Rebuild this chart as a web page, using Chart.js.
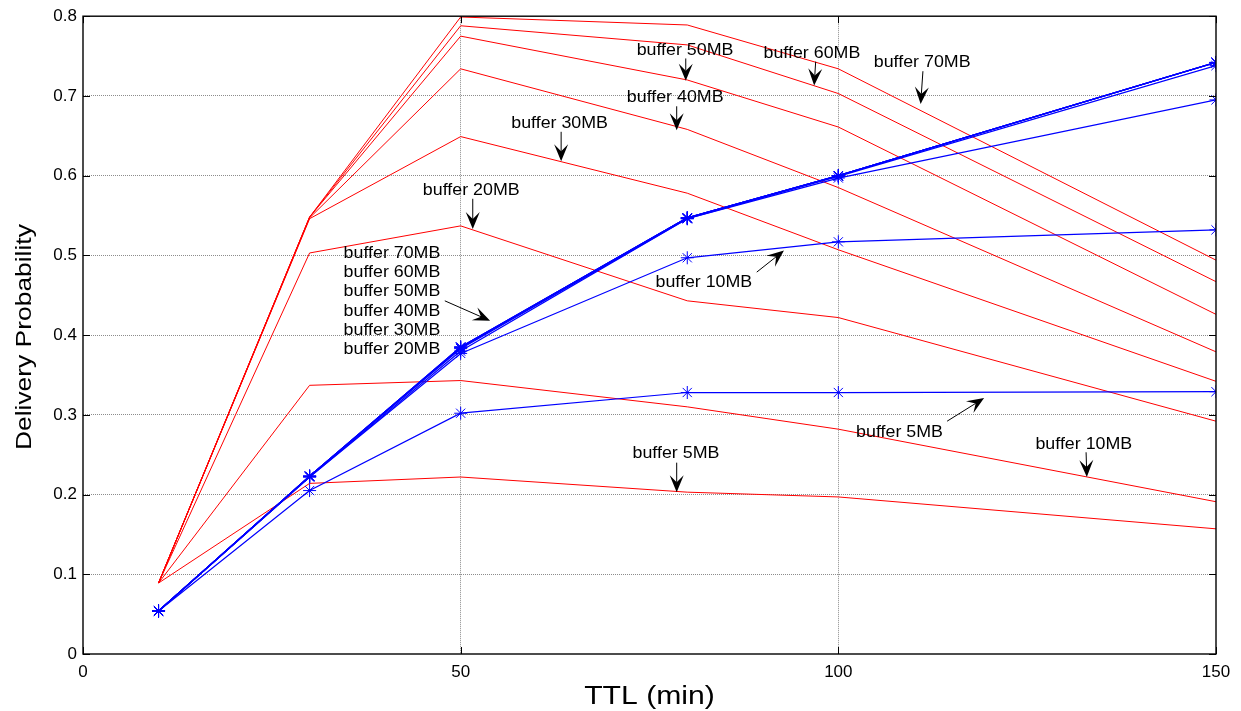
<!DOCTYPE html>
<html>
<head>
<meta charset="utf-8">
<script src="https://cdn.jsdelivr.net/npm/chart.js@4.4.0/dist/chart.umd.min.js"></script>
<style>
  html, body { margin: 0; padding: 0; background: #ffffff; }
  #wrap { width: 1241px; height: 711px; }
</style>
</head>
<body>
<div id="wrap"><canvas id="chart" width="1241" height="711"></canvas></div>
<script>
// TTL values (minutes) at which delivery probability was measured
const ttl = [10, 30, 50, 80, 100, 150];

// Red curves, one per buffer size
const red5MB  = [0.089, 0.214, 0.222, 0.203, 0.197, 0.157];
const red10MB = [0.089, 0.337, 0.343, 0.310, 0.282, 0.191];
const red20MB = [0.089, 0.503, 0.537, 0.443, 0.422, 0.292];
const red30MB = [0.089, 0.546, 0.649, 0.578, 0.507, 0.342];
const red40MB = [0.089, 0.547, 0.734, 0.658, 0.585, 0.379];
const red50MB = [0.089, 0.548, 0.775, 0.720, 0.661, 0.426];
const red60MB = [0.089, 0.548, 0.788, 0.764, 0.703, 0.467];
const red70MB = [0.089, 0.548, 0.799, 0.789, 0.734, 0.494];

// Blue curves (asterisk markers), one per buffer size
const blue5MB  = [0.054, 0.205, 0.302, 0.328, 0.328, 0.329];
const blue10MB = [0.054, 0.222, 0.377, 0.497, 0.517, 0.532];
const blue20MB = [0.054, 0.222, 0.380, 0.546, 0.597, 0.695];
const blue30MB = [0.054, 0.223, 0.383, 0.546, 0.599, 0.738];
const blue40MB = [0.054, 0.223, 0.384, 0.547, 0.600, 0.742];
const blue50MB = [0.054, 0.223, 0.385, 0.547, 0.600, 0.742];
const blue60MB = [0.054, 0.223, 0.385, 0.547, 0.600, 0.742];
const blue70MB = [0.054, 0.223, 0.385, 0.547, 0.600, 0.742];

// Axis ticks
const xTickValues = [0, 50, 100, 150];
const xTickLabels = ['0', '50', '100', '150'];
const yTickValues = [0, 0.1, 0.2, 0.3, 0.4, 0.5, 0.6, 0.7, 0.8];
const yTickLabels = ['0', '0.1', '0.2', '0.3', '0.4', '0.5', '0.6', '0.7', '0.8'];

// Callout labels with arrows, placed in data coordinates (TTL, probability)
const callouts = [
  { text: 'buffer 50MB', at: [79.7, 0.757], from: [79.8, 0.747], to: [79.8, 0.719] },
  { text: 'buffer 60MB', at: [96.5, 0.753], from: [97.0, 0.743], to: [96.8, 0.713] },
  { text: 'buffer 40MB', at: [78.4, 0.698], from: [78.6, 0.687], to: [78.6, 0.657] },
  { text: 'buffer 30MB', at: [63.1, 0.666], from: [63.3, 0.655], to: [63.3, 0.618] },
  { text: 'buffer 20MB', at: [51.4, 0.582], from: [51.6, 0.571], to: [51.6, 0.533] },
  { text: 'buffer 70MB', at: [111.1, 0.742], from: [111.2, 0.731], to: [110.9, 0.690] },
  { text: 'buffer 10MB', at: [82.2, 0.466], from: [89.2, 0.479], to: [92.8, 0.506] },
  { text: 'buffer 5MB',  at: [108.1, 0.278], from: [114.4, 0.292], to: [119.3, 0.321] },
  { text: 'buffer 10MB', at: [132.5, 0.263], from: [132.8, 0.253], to: [132.9, 0.222] },
  { text: 'buffer 5MB',  at: [78.5, 0.251], from: [78.6, 0.240], to: [78.6, 0.203] }
];
// Stacked label block for the overlapping blue curves
const groupLines = ['buffer 70MB', 'buffer 60MB', 'buffer 50MB', 'buffer 40MB', 'buffer 30MB', 'buffer 20MB'];
const groupAnchor = [34.5, 0.503];   // left edge / first line centre
const groupLineStep = 0.0243;        // spacing between lines, in probability units
const groupArrow = { from: [47.9, 0.443], to: [53.9, 0.418] };

const toPoints = vals => vals.map((v, i) => ({ x: ttl[i], y: v }));

const redSets = [
  ['red 5MB', red5MB], ['red 10MB', red10MB], ['red 20MB', red20MB], ['red 30MB', red30MB],
  ['red 40MB', red40MB], ['red 50MB', red50MB], ['red 60MB', red60MB], ['red 70MB', red70MB]
].map(([label, vals]) => ({
  label, data: toPoints(vals),
  borderColor: '#ff0000', borderWidth: 1, pointRadius: 0, tension: 0, order: 2
}));

const blueSets = [
  ['blue 5MB', blue5MB], ['blue 10MB', blue10MB], ['blue 20MB', blue20MB], ['blue 30MB', blue30MB],
  ['blue 40MB', blue40MB], ['blue 50MB', blue50MB], ['blue 60MB', blue60MB], ['blue 70MB', blue70MB]
].map(([label, vals]) => ({
  label, data: toPoints(vals),
  borderColor: '#0000ff', borderWidth: 1.25, tension: 0, order: 1,
  pointStyle: 'star', pointRadius: 6.5, pointBorderWidth: 1,
  pointBorderColor: '#0000ff', pointBackgroundColor: '#0000ff'
}));

function stretchedText(ctx, text, x, y, sx, align, baseline) {
  ctx.save();
  ctx.translate(x, y);
  ctx.scale(sx, 1);
  ctx.textAlign = align;
  ctx.textBaseline = baseline;
  ctx.fillText(text, 0, 0);
  ctx.restore();
}

// Thin shaft with a filled, swept-back arrowhead
function arrow(ctx, x1, y1, x2, y2) {
  const ang = Math.atan2(y2 - y1, x2 - x1);
  const len = 17, half = 7, notch = 10;
  const cx = Math.cos(ang), cy = Math.sin(ang);
  ctx.beginPath();
  ctx.moveTo(x1, y1);
  ctx.lineTo(x2 - cx * notch, y2 - cy * notch);
  ctx.stroke();
  const bx = x2 - cx * len, by = y2 - cy * len;
  const nx = -cy, ny = cx;
  ctx.beginPath();
  ctx.moveTo(x2, y2);
  ctx.lineTo(bx + nx * half, by + ny * half);
  ctx.lineTo(x2 - cx * notch, y2 - cy * notch);
  ctx.lineTo(bx - nx * half, by - ny * half);
  ctx.closePath();
  ctx.fill();
}

const axesFrame = {
  id: 'axesFrame',
  afterDraw(chart) {
    const { ctx, chartArea: a, scales: { x, y } } = chart;
    ctx.save();
    ctx.strokeStyle = '#000';
    ctx.fillStyle = '#000';
    ctx.lineWidth = 1.4;
    ctx.strokeRect(a.left, a.top, a.right - a.left, a.bottom - a.top);

    // inward tick marks on all four sides
    ctx.lineWidth = 1;
    const tl = 7;
    ctx.beginPath();
    xTickValues.forEach(v => {
      const px = Math.round(x.getPixelForValue(v)) + 0.5;
      ctx.moveTo(px, a.bottom); ctx.lineTo(px, a.bottom - tl);
      ctx.moveTo(px, a.top); ctx.lineTo(px, a.top + tl);
    });
    yTickValues.forEach(v => {
      const py = Math.round(y.getPixelForValue(v)) + 0.5;
      ctx.moveTo(a.left, py); ctx.lineTo(a.left + tl, py);
      ctx.moveTo(a.right, py); ctx.lineTo(a.right - tl, py);
    });
    ctx.stroke();

    // axis titles
    ctx.font = '26px "Liberation Sans", Arial, sans-serif';
    stretchedText(ctx, 'TTL (min)', (a.left + a.right) / 2, 704, 1.16, 'center', 'alphabetic');
    ctx.save();
    ctx.translate(31, (a.top + a.bottom) / 2 + 2);
    ctx.rotate(-Math.PI / 2);
    ctx.font = '22px "Liberation Sans", Arial, sans-serif';
    stretchedText(ctx, 'Delivery Probability', 0, 0, 1.2, 'center', 'alphabetic');
    ctx.restore();

    // callouts
    ctx.font = '16.5px "Liberation Sans", Arial, sans-serif';
    ctx.lineWidth = 1;
    callouts.forEach(c => {
      stretchedText(ctx, c.text, x.getPixelForValue(c.at[0]), y.getPixelForValue(c.at[1]), 1.08, 'center', 'middle');
      arrow(ctx, x.getPixelForValue(c.from[0]), y.getPixelForValue(c.from[1]),
                 x.getPixelForValue(c.to[0]), y.getPixelForValue(c.to[1]));
    });
    groupLines.forEach((t, i) => {
      stretchedText(ctx, t, x.getPixelForValue(groupAnchor[0]),
        y.getPixelForValue(groupAnchor[1] - i * groupLineStep), 1.08, 'left', 'middle');
    });
    arrow(ctx, x.getPixelForValue(groupArrow.from[0]), y.getPixelForValue(groupArrow.from[1]),
               x.getPixelForValue(groupArrow.to[0]), y.getPixelForValue(groupArrow.to[1]));
    ctx.restore();
  }
};

const gridColor = edgeValues => c =>
  (c.tick && edgeValues.includes(c.tick.value)) ? 'rgba(0,0,0,0)' : '#8c8c8c';

new Chart(document.getElementById('chart'), {
  type: 'line',
  data: { datasets: [...blueSets, ...redSets] },
  options: {
    responsive: false,
    animation: false,
    devicePixelRatio: 1,
    layout: { padding: { top: 15, right: 25, left: 0, bottom: 0 } },
    plugins: { legend: { display: false }, tooltip: { enabled: false } },
    scales: {
      x: {
        type: 'linear', min: 0, max: 150,
        afterBuildTicks: s => { s.ticks = xTickValues.map(v => ({ value: v })); },
        afterFit: s => { s.height = 57; },
        ticks: {
          color: '#000', padding: 8,
          font: { family: '"Liberation Sans", Arial, sans-serif', size: 17 },
          callback: (v) => xTickLabels[xTickValues.indexOf(v)]
        },
        grid: { color: gridColor([0, 150]), lineWidth: 1, drawTicks: false },
        border: { display: false, dash: [1, 1] }
      },
      y: {
        type: 'linear', min: 0, max: 0.8,
        afterBuildTicks: s => { s.ticks = yTickValues.map(v => ({ value: v })); },
        afterFit: s => { s.width = 83; },
        ticks: {
          color: '#000', padding: 6,
          font: { family: '"Liberation Sans", Arial, sans-serif', size: 17 },
          callback: (v) => yTickLabels[yTickValues.findIndex(t => Math.abs(t - v) < 1e-9)]
        },
        grid: { color: gridColor([0, 0.8]), lineWidth: 1, drawTicks: false },
        border: { display: false, dash: [1, 1] }
      }
    }
  },
  plugins: [axesFrame]
});
</script>
</body>
</html>
